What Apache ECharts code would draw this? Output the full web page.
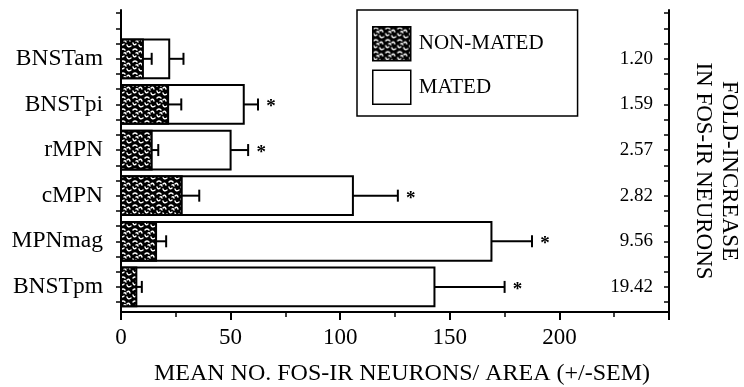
<!DOCTYPE html>
<html lang="en">
  <head>
    <meta charset="UTF-8" />
    <title>fos-ir neurons</title>
    <style>
      body {
        margin: 0;
        background: #fff;
      }
      #chart {
        width: 744px;
        height: 387px;
      }
    </style>
    <script src="https://cdn.jsdelivr.net/npm/echarts@6/dist/echarts.min.js"></script>
  </head>
  <body>
    <div id="chart"></div>
    <script>
      // regions, top to bottom
      const regions = ["BNSTam", "BNSTpi", "rMPN", "cMPN", "MPNmag", "BNSTpm"];
      const nonMated = [10, 21.5, 14, 27.7, 16, 7];
      const nonMatedSem = [4, 6, 3, 8, 4.6, 2.5];
      const mated = [22, 56, 50, 105.8, 169, 143];
      const matedSem = [6.5, 6.5, 8, 20.5, 18.5, 32];
      const foldIncrease = ["1.20", "1.59", "2.57", "2.82", "9.56", "19.42"];
      const significant = [0, 1, 1, 1, 1, 1];
      const xTickLabels = [0, 50, 100, 150, 200];

      const font = "Liberation Serif";

      // stippled fill used for the non-mated bars
      function stipple() {
        const c = document.createElement("canvas");
        c.width = 12;
        c.height = 12;
        const g = c.getContext("2d");
        g.fillStyle = "#000";
        g.fillRect(0, 0, 12, 12);
        g.strokeStyle = "#fff";
        g.lineWidth = 1.4;
        g.lineCap = "round";
        const worms = [
          [1, 2, 3, 0, 5, 2],
          [7, 4, 9, 2, 10, 5],
          [1, 7, 2, 10, 4, 8],
          [7, 9, 8, 12, 11, 10],
          [4, 5, 5, 4, 6, 6],
        ];
        worms.forEach(([a, b, cx, cy, d, e]) => {
          g.beginPath();
          g.moveTo(a, b);
          g.quadraticCurveTo(cx, cy, d, e);
          g.stroke();
        });
        return c;
      }
      const dots = { image: stipple(), repeat: "repeat" };

      const idx = regions.map((r, i) => i);
      const yTicks = [];
      for (let i = -1; i <= 5; i++) yTicks.push(i - 1 / 3, i, i + 1 / 3);

      function barItem(fill) {
        return function (params, api) {
          const i = api.value(1);
          const base = api.coord([0, i]);
          const tip = api.coord([api.value(0), i]);
          const h = api.size([0, 1])[1] * 0.85;
          return {
            type: "rect",
            shape: { x: base[0], y: base[1] - h / 2, width: tip[0] - base[0], height: h },
            style: { fill: fill, stroke: "#000", lineWidth: 2 },
          };
        };
      }

      function errorItem(params, api) {
        const v = api.value(0);
        const i = api.value(2);
        const a = api.coord([v, i]);
        const b = api.coord([v + api.value(1), i]);
        const kids = [
          { type: "line", shape: { x1: a[0], y1: a[1], x2: b[0], y2: b[1] }, style: { stroke: "#000", lineWidth: 2 } },
          { type: "line", shape: { x1: b[0], y1: b[1] - 6, x2: b[0], y2: b[1] + 6 }, style: { stroke: "#000", lineWidth: 2 } },
        ];
        if (api.value(3)) {
          kids.push({
            type: "text",
            x: b[0] + 13,
            y: b[1] + 3,
            style: { text: "*", font: "bold 19px " + font, fill: "#000", align: "center", verticalAlign: "middle" },
          });
        }
        return { type: "group", children: kids };
      }

      const chart = echarts.init(document.getElementById("chart"));
      chart.setOption({
        animation: false,
        grid: { left: 121, right: 75, top: 10, bottom: 75, outerBoundsMode: "none" },
        legend: {
          left: 357,
          top: 10,
          orient: "vertical",
          selectedMode: false,
          icon: "rect",
          itemWidth: 38,
          itemHeight: 34,
          itemGap: 8,
          padding: [16, 34, 11, 15],
          borderColor: "#000",
          borderWidth: 1.5,
          textStyle: { fontFamily: font, fontSize: 21, color: "#000", padding: [0, 0, 0, 3] },
          data: [
            { name: "NON-MATED", itemStyle: { color: dots, borderColor: "#000", borderWidth: 1.5 } },
            { name: "MATED", itemStyle: { color: "#fff", borderColor: "#000", borderWidth: 1.5 } },
          ],
        },
        xAxis: {
          type: "value",
          min: 0,
          max: 250,
          interval: 50,
          name: "MEAN NO. FOS-IR NEURONS/ AREA (+/-SEM)",
          nameLocation: "middle",
          nameGap: 50,
          nameTextStyle: { fontFamily: font, fontSize: 24, color: "#000", padding: [0, 0, 0, 14] },
          axisLine: { onZero: false, lineStyle: { color: "#000", width: 2 } },
          axisTick: { length: 8, lineStyle: { color: "#000", width: 2 } },
          minorTick: { show: true, splitNumber: 2, length: 5, lineStyle: { color: "#000", width: 1.5 } },
          splitLine: { show: false },
          axisLabel: {
            margin: 14,
            fontFamily: font,
            fontSize: 23,
            color: "#000",
            formatter: (v) => (xTickLabels.includes(v) ? String(v) : ""),
          },
        },
        yAxis: [
          {
            type: "value",
            inverse: true,
            min: -1.07,
            max: 5.55,
            axisLine: { show: true, onZero: false, lineStyle: { color: "#000", width: 2 } },
            axisTick: { show: true, length: 5, customValues: yTicks, lineStyle: { color: "#000", width: 1.5 } },
            splitLine: { show: false },
            axisLabel: {
              customValues: idx,
              margin: 18,
              fontFamily: font,
              fontSize: 23.5,
              color: "#000",
              formatter: (v) => regions[Math.round(v)],
            },
          },
          {
            type: "value",
            position: "right",
            inverse: true,
            min: -1.07,
            max: 5.55,
            axisLine: { show: true, onZero: false, lineStyle: { color: "#000", width: 2 } },
            axisTick: { show: true, inside: true, length: 5, customValues: yTicks, lineStyle: { color: "#000", width: 1.5 } },
            splitLine: { show: false },
            axisLabel: {
              customValues: idx,
              inside: true,
              margin: 16,
              fontFamily: font,
              fontSize: 19,
              color: "#000",
              formatter: (v) => foldIncrease[Math.round(v)],
            },
          },
        ],
        graphic: [
          {
            type: "text",
            x: 716,
            y: 171,
            rotation: -Math.PI / 2,
            style: {
              text: "FOLD-INCREASE\nIN FOS-IR NEURONS",
              font: "23px " + font,
              lineHeight: 26,
              fill: "#000",
              align: "center",
              verticalAlign: "middle",
            },
          },
        ],
        series: [
          {
            name: "MATED",
            type: "custom",
            renderItem: barItem("#fff"),
            itemStyle: { color: "#fff", borderColor: "#000" },
            encode: { x: 0, y: 1 },
            data: mated.map((v, i) => [v, i]),
          },
          {
            name: "NON-MATED",
            type: "custom",
            renderItem: barItem(dots),
            itemStyle: { color: dots, borderColor: "#000" },
            encode: { x: 0, y: 1 },
            data: nonMated.map((v, i) => [v, i]),
          },
          {
            name: "mated sem",
            type: "custom",
            renderItem: errorItem,
            encode: { x: 0, y: 2 },
            data: mated.map((v, i) => [v, matedSem[i], i, significant[i]]),
          },
          {
            name: "non-mated sem",
            type: "custom",
            renderItem: errorItem,
            encode: { x: 0, y: 2 },
            data: nonMated.map((v, i) => [v, nonMatedSem[i], i, 0]),
          },
        ],
      });
    </script>
  </body>
</html>
